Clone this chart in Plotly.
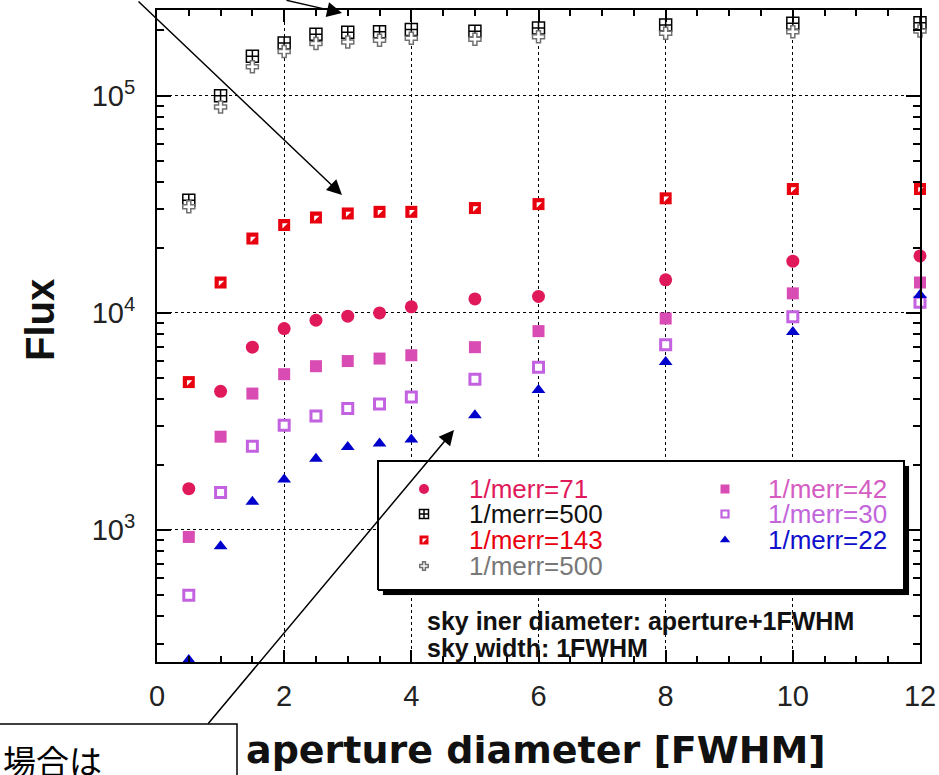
import plotly.graph_objects as go

# ---------------- data ----------------
aperture = [0.5, 1, 1.5, 2, 2.5, 3, 3.5, 4, 5, 6, 8, 10, 12]

flux_merr71 = [1550, 4350, 6950, 8470, 9250, 9660, 10000, 10660, 11600, 11900, 14200, 17300, 18300]
flux_merr500_box = [33000, 100000, 152000, 175000, 192000, 196000, 197000, 202000, 198000, 205000, 212000, 216000, 217000]
flux_merr143 = [4800, 13800, 22000, 25400, 27500, 28700, 29200, 29200, 30400, 31700, 33700, 37200, 37200]
flux_merr500_plus = [30800, 88700, 136000, 160000, 174000, 177000, 180000, 184000, 182000, 187000, 194000, 197000, 199000]
flux_merr42 = [929, 2690, 4250, 5220, 5680, 6000, 6160, 6380, 6950, 8240, 9420, 12300, 13800]
flux_merr30 = [500, 1490, 2430, 3040, 3350, 3630, 3800, 4100, 4940, 5620, 7130, 9600, 11200]
flux_merr22 = [252, 841, 1350, 1710, 2130, 2410, 2500, 2610, 3380, 4410, 5940, 8160, 12100]

labels = ["1/merr=71", "1/merr=500", "1/merr=143", "1/merr=500",
          "1/merr=42", "1/merr=30", "1/merr=22"]

x_ticks = [0, 2, 4, 6, 8, 10, 12]
y_ticks = [1e3, 1e4, 1e5]
y_ticktext = ["10<sup>3</sup>", "10<sup>4</sup>", "10<sup>5</sup>"]

x_title = "aperture diameter [FWHM]"
y_title = "Flux"
note_lines = ["sky iner diameter: aperture+1FWHM", "sky width: 1FWHM"]
jp_text = "場合は"

# ---------------- styles ----------------
C71 = "#E0195A"
C143 = "#E8000E"
CGRAY = "#707070"
C42 = "#D84CB4"
C30 = "#C262E0"
C22 = "#0000CC"

styles = [
    dict(y=flux_merr71, sym="circle", size=13, fill=C71, line=C71, lw=0, tc=C71),
    dict(y=flux_merr500_box, sym="square-cross", size=12, fill="white", line="black", lw=1.5, tc="#111111"),
    dict(y=flux_merr143, sym="square", size=12, fill=C143, line=C143, lw=0, tc=C143),
    dict(y=flux_merr500_plus, sym="cross", size=10, fill="white", line=CGRAY, lw=1.5, tc="#777777"),
    dict(y=flux_merr42, sym="square", size=12, fill=C42, line=C42, lw=0, tc="#D45CC2"),
    dict(y=flux_merr30, sym="square", size=10, fill="white", line=C30, lw=3, tc="#C266DC"),
    dict(y=flux_merr22, sym="triangle-up", size=12, fill=C22, line=C22, lw=0, tc="#1010CC"),
]

fig = go.Figure()

for i, s in enumerate(styles):
    fig.add_trace(go.Scatter(
        x=aperture, y=s["y"], mode="markers", name=labels[i], showlegend=False,
        cliponaxis=False,
        marker=dict(symbol=s["sym"], size=s["size"], color=s["fill"],
                    line=dict(color=s["line"], width=s["lw"]))))
    if i == 2:  # white upper-left half of the half-filled square
        fig.add_trace(go.Scatter(
            x=aperture, y=s["y"], mode="markers", showlegend=False, cliponaxis=False,
            marker=dict(symbol="triangle-nw", size=6, color="white", line=dict(width=0))))

# ---------------- manual legend (overlay axes in 0..1 plot fractions) ----------------
PW, PH, L, T = 763.0, 652.0, 157.0, 10.0
def px(x):
    return (x - L) / PW
def py(y):
    return (T + PH - y) / PH

# legend box + shadow (drawn on the overlay subplot so it hides the grid)
box = (378, 461, 904, 590)
for dx, fillc, lw in [(5, "black", 0), (0, "white", 2)]:
    x0, x1 = px(box[0] + dx), px(box[2] + dx)
    y0, y1 = py(box[3] + dx), py(box[1] + dx)
    fig.add_trace(go.Scatter(
        x=[x0, x1, x1, x0, x0], y=[y0, y0, y1, y1, y0], xaxis="x2", yaxis="y2",
        mode="lines", fill="toself", fillcolor=fillc, showlegend=False, hoverinfo="skip",
        line=dict(color="black", width=lw if lw else 0.1)))

leg_rows = [489, 514, 540, 566]
leg_pos = [(0, 0), (0, 1), (0, 2), (0, 3), (1, 0), (1, 1), (1, 2)]
col_marker_x = [424, 725]
col_text_x = [467, 766]

for i, s in enumerate(styles):
    c, r = leg_pos[i]
    mx, my = px(col_marker_x[c]), py(leg_rows[r])
    fig.add_trace(go.Scatter(
        x=[mx], y=[my], xaxis="x2", yaxis="y2", mode="markers", showlegend=False,
        marker=dict(symbol=s["sym"], size=s["size"] - 3, color=s["fill"],
                    line=dict(color=s["line"], width=min(s["lw"], 2.2)))))
    if i == 2:
        fig.add_trace(go.Scatter(
            x=[mx], y=[my], xaxis="x2", yaxis="y2", mode="markers", showlegend=False,
            marker=dict(symbol="triangle-nw", size=5, color="white", line=dict(width=0))))
    fig.add_annotation(x=px(col_text_x[c]), y=my, xref="paper", yref="paper",
                       text=labels[i], showarrow=False, xanchor="left", yanchor="middle",
                       font=dict(family="Liberation Sans, Arial", size=26, color=s["tc"]))

# note text
for k, line in enumerate(note_lines):
    fig.add_annotation(x=px(425), y=py(621 + 27 * k), xref="paper", yref="paper",
                       text="<b>%s</b>" % line, showarrow=False, xanchor="left", yanchor="middle",
                       font=dict(family="Liberation Sans, Arial", size=25, color="#111111"))

# axis titles
fig.add_annotation(x=px(40), y=py(320), xref="paper", yref="paper", text="<b>%s</b>" % y_title,
                   textangle=-90, showarrow=False, xanchor="center", yanchor="middle",
                   font=dict(family="Liberation Sans, Arial", size=40, color="#111111"))
fig.add_annotation(x=px(536), y=py(750), xref="paper", yref="paper", text="<b>%s</b>" % x_title,
                   showarrow=False, xanchor="center", yanchor="middle",
                   font=dict(family="DejaVu Sans", size=38, color="#111111"))

# Japanese callout box (cut off at figure edge)
fig.add_shape(type="rect", xref="paper", yref="paper",
              x0=px(-5), x1=px(237), y0=py(790), y1=py(724),
              fillcolor="white", line=dict(color="black", width=1.5))
fig.add_annotation(x=px(104), y=py(760), xref="paper", yref="paper", text=jp_text,
                   showarrow=False, xanchor="right", yanchor="middle",
                   font=dict(family="Noto Sans CJK JP", size=33, color="black"))

# arrows
arrows = [((342, 13), (285, -10)), ((342, 195), (137, -10)), ((454, 430), (207, 725))]
for (hx, hy), (tx, ty) in arrows:
    fig.add_annotation(x=px(hx), y=py(hy), xref="paper", yref="paper",
                       ax=tx - hx, ay=ty - hy, axref="pixel", ayref="pixel",
                       showarrow=True, arrowhead=2, arrowsize=2, arrowwidth=1.5,
                       arrowcolor="black", text="")

# minor ticks
y_minor = [m * 10 ** d for d in range(2, 6) for m in range(2, 10) if 246 < m * 10 ** d < 248000]

axis_common = dict(showline=True, linecolor="black", linewidth=2, mirror="allticks",
                   ticks="inside", tickcolor="black", tickwidth=1.5,
                   showgrid=True, gridcolor="black", griddash="dot", gridwidth=1,
                   zeroline=False,
                   tickfont=dict(family="Liberation Sans, Arial", size=29, color="#222222"))

fig.update_layout(
    width=939, height=775,
    margin=dict(l=157, r=19, t=10, b=113, autoexpand=False),
    paper_bgcolor="white", plot_bgcolor="white",
    xaxis=dict(range=[0, 12], tickvals=x_ticks, ticklen=12,
               minor=dict(dtick=0.5, ticks="inside", ticklen=6, tickcolor="black", tickwidth=1.5, showgrid=False),
               ticklabelstandoff=7, **axis_common),
    yaxis=dict(type="log", range=[2.392, 5.395], tickvals=y_ticks, ticktext=y_ticktext, ticklen=14,
               minor=dict(tickvals=y_minor, ticks="inside", ticklen=7, tickcolor="black", tickwidth=1.5, showgrid=False),
               ticklabelstandoff=14, **axis_common),
    xaxis2=dict(overlaying="x", range=[0, 1], visible=False),
    yaxis2=dict(overlaying="y", range=[0, 1], visible=False),
)

fig.write_html("out.html")
